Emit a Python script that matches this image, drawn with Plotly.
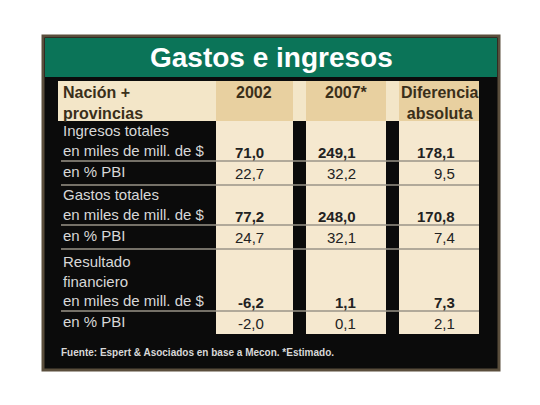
import plotly.graph_objects as go

title = "Gastos e ingresos"
headers = ["Nación +<br>provincias", "2002", "2007*", "Diferencia<br>absoluta"]
row_labels = ["Ingresos totales<br>en miles de mill. de $", "en % PBI",
              "Gastos totales<br>en miles de mill. de $", "en % PBI",
              "Resultado<br>financiero<br>en miles de mill. de $", "en % PBI"]
v2002 = ["71,0", "22,7", "77,2", "24,7", "-6,2", "-2,0"]
v2007 = ["249,1", "32,2", "248,0", "32,1", "1,1", "0,1"]
vdiff = ["178,1", "9,5", "170,8", "7,4", "7,3", "2,1"]
bold = [True, False, True, False, True, False]
source = "Fuente: Espert & Asociados en base a Mecon. *Estimado."

row_y = [151, 172, 215, 236, 301, 322]
cols = [(215, 292), (305, 385), (398, 478)]
lines_y = [160, 184, 224, 248, 310]

fig = go.Figure()
shapes = [
    dict(type="rect", x0=42, x1=498, y0=35, y1=369, fillcolor="#0b0b0b", line=dict(color="#5a4e3c", width=3)),
    dict(type="rect", x0=44, x1=496, y0=37, y1=76, fillcolor="#0b7458", line=dict(width=0)),
    dict(type="rect", x0=57, x1=215, y0=80, y1=120, fillcolor="#f3e6c8", line=dict(width=0)),
    dict(type="rect", x0=292, x1=305, y0=80, y1=120, fillcolor="#f3e6c8", line=dict(width=0)),
    dict(type="rect", x0=385, x1=398, y0=80, y1=120, fillcolor="#f3e6c8", line=dict(width=0)),
]
for (a, b) in cols:
    shapes.append(dict(type="rect", x0=a, x1=b, y0=80, y1=120, fillcolor="#e8d0a0", line=dict(width=0)))
    shapes.append(dict(type="rect", x0=a, x1=b, y0=120, y1=333, fillcolor="#f5e8cf", line=dict(width=0)))
for y in lines_y:
    shapes.append(dict(type="line", x0=60, x1=478, y0=y, y1=y, line=dict(color="#9a9488", width=1.5)))
fig.update_layout(shapes=shapes)

ann = [dict(x=270, y=56, text="<b>" + title + "</b>", showarrow=False,
            font=dict(size=28, color="white", family="Liberation Sans"), xanchor="center", yanchor="middle")]
hx = [(60, "left"), (253, "center"), (345, "center"), (438, "center")]
for (x, anc), h in zip(hx, headers):
    ann.append(dict(x=x, y=81, text="<b>" + h + "</b>", showarrow=False, xanchor=anc, yanchor="top", align=anc,
                    font=dict(size=16, color="#3a2f1a", family="Liberation Sans Narrow, Liberation Sans")))
for i, lab in enumerate(row_labels):
    ann.append(dict(x=60, y=row_y[i] + 9, text=lab, showarrow=False, xanchor="left", yanchor="bottom", align="left",
                    font=dict(size=15, color="#d8d8d8", family="Liberation Sans Narrow, Liberation Sans")))
    for vals, xr in zip([v2002, v2007, vdiff], [265, 357, 456]):
        t = "<b>" + vals[i] + "</b>" if bold[i] else vals[i]
        ann.append(dict(x=xr, y=row_y[i], text=t, showarrow=False, xanchor="right", yanchor="middle",
                        font=dict(size=15, color="#222", family="Liberation Sans Narrow, Liberation Sans")))
ann.append(dict(x=58, y=351, text="<b>" + source + "</b>", showarrow=False, xanchor="left", yanchor="middle",
                font=dict(size=10, color="#d8d8d8", family="Liberation Sans Narrow, Liberation Sans")))
fig.update_layout(annotations=ann, width=540, height=405, margin=dict(l=0, r=0, t=0, b=0),
                  paper_bgcolor="white", plot_bgcolor="white",
                  xaxis=dict(range=[7, 547], visible=False, fixedrange=True),
                  yaxis=dict(range=[412, 7], visible=False, fixedrange=True), showlegend=False)
fig.write_html("out.html")
